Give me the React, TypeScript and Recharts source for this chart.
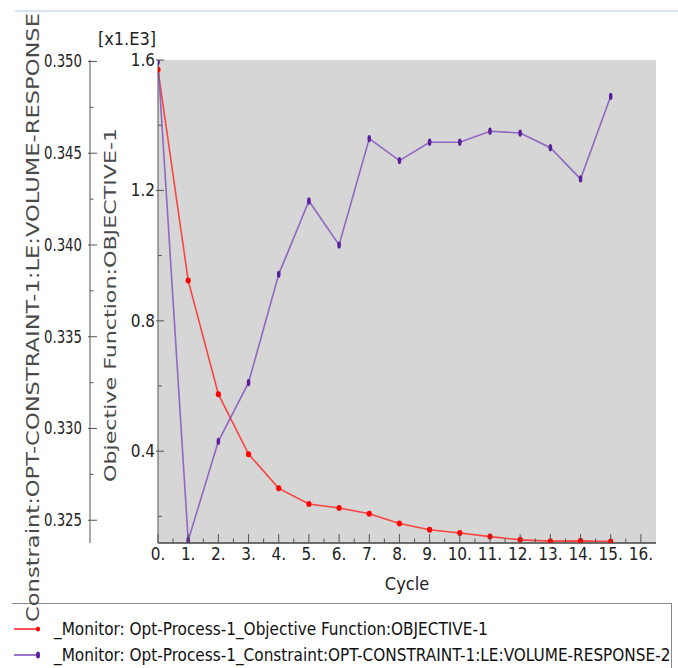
import React from 'react';
import { LineChart, Line, XAxis, YAxis, CartesianGrid, Legend } from 'recharts';

const cycles = [0, 1, 2, 3, 4, 5, 6, 7, 8, 9, 10, 11, 12, 13, 14, 15];
const objectiveValues = [1570, 924, 575, 391, 286, 238, 226, 208, 178, 159, 149, 138, 128, 124, 125, 123];
const constraintValues = [0.35, 0.3239, 0.3293, 0.3325, 0.3384, 0.3424, 0.34, 0.3458, 0.3446, 0.3456, 0.3456, 0.3462, 0.3461, 0.3453, 0.3436, 0.3481];

const xTicks = [0, 0.5, 1, 1.5, 2, 2.5, 3, 3.5, 4, 4.5, 5, 5.5, 6, 6.5, 7, 7.5, 8, 8.5, 9, 9.5, 10, 10.5, 11, 11.5, 12, 12.5, 13, 13.5, 14, 14.5, 15, 15.5, 16];
const objTicks = [200, 400, 600, 800, 1000, 1200, 1400, 1600];
const objMajor = [400, 800, 1200, 1600];
const conTicks = [0.325, 0.3275, 0.33, 0.3325, 0.335, 0.3375, 0.34, 0.3425, 0.345, 0.3475, 0.35];
const conMajor = [0.325, 0.33, 0.335, 0.34, 0.345, 0.35];

const seriesNames = [
  '_Monitor: Opt-Process-1_Objective Function:OBJECTIVE-1',
  '_Monitor: Opt-Process-1_Constraint:OPT-CONSTRAINT-1:LE:VOLUME-RESPONSE-2',
];
const seriesColors = ['#ff2a2a', '#8455bd'];

const data = cycles.map((c, i) => ({ cycle: c, obj: objectiveValues[i], con: constraintValues[i] }));

const NARROW = "'Liberation Sans Narrow', 'DejaVu Sans Condensed', 'Liberation Sans', sans-serif";
const TICK_COLOR = '#555';
const LABEL_COLOR = '#222';

const isMajorX = (v: number) => Math.abs(v - Math.round(v)) < 1e-9;
const inList = (list: number[], v: number) => list.some((m) => Math.abs(m - v) < 1e-9);

const BottomTick = (props: any) => {
  const { x, y, payload } = props;
  const v = payload.value;
  const major = isMajorX(v);
  return (
    <g>
      <line x1={x} x2={x} y1={y} y2={y - (major ? 9 : 4.5)} stroke={TICK_COLOR} strokeWidth={1} />
      {major && (
        <text x={x} y={y + 17} textAnchor="middle" fontFamily={NARROW} fontSize={17} fill={LABEL_COLOR}>
          {`${v}.`}
        </text>
      )}
    </g>
  );
};

const TopTick = (props: any) => {
  const { x, y, payload } = props;
  const major = isMajorX(payload.value);
  return <line x1={x} x2={x} y1={y} y2={y + (major ? 9 : 5)} stroke={TICK_COLOR} strokeWidth={1} />;
};

const ObjTick = (props: any) => {
  const { x, y, payload } = props;
  const v = payload.value;
  const major = inList(objMajor, v);
  return (
    <g>
      <line x1={major ? x - 2 : x} x2={x + (major ? 6 : 4)} y1={y} y2={y} stroke={TICK_COLOR} strokeWidth={1} />
      {major && (
        <text x={x - 3} y={y + 6} textAnchor="end" fontFamily={NARROW} fontSize={17} fill={LABEL_COLOR}>
          {(v / 1000).toFixed(1)}
        </text>
      )}
    </g>
  );
};

const RightTick = (props: any) => {
  const { x, y } = props;
  return <line x1={x} x2={x - 4} y1={y} y2={y} stroke={TICK_COLOR} strokeWidth={1} />;
};

const ConTick = (props: any) => {
  const { x, y, payload } = props;
  const v = payload.value;
  const major = inList(conMajor, v);
  return (
    <g>
      <line x1={major ? x - 2 : x} x2={x + (major ? 7 : 3.5)} y1={y} y2={y} stroke={TICK_COLOR} strokeWidth={1} />
      {major && (
        <text
          x={x - 8}
          y={y + 6}
          textAnchor="end"
          fontFamily={NARROW}
          fontSize={17}
          textLength={38}
          lengthAdjust="spacingAndGlyphs"
          fill={LABEL_COLOR}
        >
          {v.toFixed(3)}
        </text>
      )}
    </g>
  );
};

const RedDot = (props: any) => {
  const { cx, cy, index } = props;
  if (cx == null || cy == null) return <g key={`r${index}`} />;
  return <ellipse key={`r${index}`} cx={cx} cy={cy} rx={2.6} ry={3} fill="#ff0000" />;
};

const PurpleDot = (props: any) => {
  const { cx, cy, index } = props;
  if (cx == null || cy == null) return <g key={`p${index}`} />;
  return <ellipse key={`p${index}`} cx={cx} cy={cy} rx={1.8} ry={3.6} fill="#5a1e9a" />;
};

const LegendBox = () => (
  <div
    style={{
      width: 660,
      height: 70,
      borderTop: '1px solid #888',
      borderRight: '1px solid #888',
      boxSizing: 'border-box',
      fontFamily: NARROW,
      fontSize: 17,
      color: '#111',
      paddingTop: 12,
    }}
  >
    {seriesNames.map((name, i) => (
      <div key={name} style={{ display: 'flex', alignItems: 'center', height: 26 }}>
        <svg width={40} height={10} style={{ marginLeft: 2 }}>
          <line x1={0} x2={24} y1={5} y2={5} stroke={seriesColors[i]} strokeWidth={1.6} />
          <ellipse cx={24} cy={5} rx={2} ry={i === 0 ? 2.5 : 3.5} fill={i === 0 ? '#ff0000' : '#5a1e9a'} />
        </svg>
        <span style={{ whiteSpace: 'nowrap' }}>{name}</span>
      </div>
    ))}
  </div>
);

export default function App() {
  return (
    <div style={{ position: 'absolute', left: 0, top: 0, width: 678, height: 668, background: '#fff' }}>
      <LineChart
        width={678}
        height={668}
        data={data}
        margin={{ top: 60, right: 22, bottom: 95, left: 40 }}
      >
        <CartesianGrid horizontal={false} vertical={false} fill="#d6d6d6" stroke="none" />
        <XAxis
          xAxisId="bottom"
          dataKey="cycle"
          type="number"
          domain={[0, 16.5]}
          ticks={xTicks}
          interval={0}
          height={30}
          tickSize={0}
          tickMargin={0}
          tick={<BottomTick />}
          axisLine={{ stroke: '#444', strokeWidth: 1.5 }}
          tickLine={false}
          allowDataOverflow
        />
        <XAxis
          xAxisId="top"
          orientation="top"
          dataKey="cycle"
          type="number"
          domain={[0, 16.5]}
          ticks={xTicks}
          interval={0}
          height={0}
          tickSize={0}
          tickMargin={0}
          tick={<TopTick />}
          axisLine={{ stroke: '#444', strokeWidth: 1.5 }}
          tickLine={false}
          allowDataOverflow
        />
        <YAxis
          yAxisId="aObj"
          orientation="left"
          type="number"
          domain={[118.4, 1600]}
          ticks={objTicks}
          interval={0}
          width={68}
          tickSize={0}
          tickMargin={0}
          tick={<ObjTick />}
          axisLine={{ stroke: '#555', strokeWidth: 1 }}
          tickLine={false}
          allowDataOverflow
        />
        <YAxis
          yAxisId="bCon"
          orientation="left"
          type="number"
          domain={[0.32376, 0.35008]}
          ticks={conTicks}
          interval={0}
          width={50}
          tickSize={0}
          tickMargin={0}
          tick={<ConTick />}
          axisLine={{ stroke: '#555', strokeWidth: 1 }}
          tickLine={false}
          allowDataOverflow
        />
        <YAxis
          yAxisId="cObjRight"
          orientation="right"
          type="number"
          domain={[118.4, 1600]}
          ticks={objTicks}
          interval={0}
          width={0}
          tickSize={0}
          tickMargin={0}
          tick={<RightTick />}
          axisLine={{ stroke: '#666', strokeWidth: 1 }}
          tickLine={false}
          allowDataOverflow
        />
        <Legend
          layout="vertical"
          verticalAlign="middle"
          align="center"
          content={() => <LegendBox />}
          wrapperStyle={{ position: 'absolute', left: 12, top: 603, width: 660, height: 70 }}
        />
        <Line
          xAxisId="bottom"
          yAxisId="aObj"
          dataKey="obj"
          name={seriesNames[0]}
          stroke={seriesColors[0]}
          strokeWidth={1.6}
          strokeOpacity={0.85}
          dot={<RedDot />}
          activeDot={false}
          isAnimationActive={false}
        />
        <Line
          xAxisId="bottom"
          yAxisId="bCon"
          dataKey="con"
          name={seriesNames[1]}
          stroke={seriesColors[1]}
          strokeWidth={1.6}
          strokeOpacity={0.85}
          dot={<PurpleDot />}
          activeDot={false}
          isAnimationActive={false}
        />
      </LineChart>
      <svg
        width={678}
        height={668}
        style={{ position: 'absolute', left: 0, top: 0, pointerEvents: 'none' }}
      >
        <line x1={15} x2={678} y1={11} y2={11} stroke="#c9dbf0" strokeWidth={1.5} />
        <text x={127} y={45} textAnchor="middle" fontFamily={NARROW} fontSize={18} fill={LABEL_COLOR}>
          [x1.E3]
        </text>
        <text
          x={38.5}
          y={317.5}
          transform="rotate(-90, 38.5, 317.5)"
          textAnchor="middle"
          fontFamily="'DejaVu Sans', Verdana, sans-serif"
          fontSize={17}
          textLength={609}
          lengthAdjust="spacingAndGlyphs"
          fill="#4a4a4a"
        >
          Constraint:OPT-CONSTRAINT-1:LE:VOLUME-RESPONSE
        </text>
        <text
          x={115.5}
          y={305}
          transform="rotate(-90, 115.5, 305)"
          textAnchor="middle"
          fontFamily="'DejaVu Sans', Verdana, sans-serif"
          fontSize={16}
          textLength={354}
          lengthAdjust="spacingAndGlyphs"
          fill="#4a4a4a"
        >
          Objective Function:OBJECTIVE-1
        </text>
        <text x={407} y={590} textAnchor="middle" fontFamily={NARROW} fontSize={18} fill={LABEL_COLOR}>
          Cycle
        </text>
      </svg>
    </div>
  );
}
